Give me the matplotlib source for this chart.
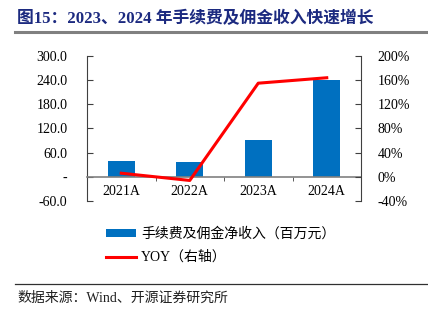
import matplotlib
matplotlib.use("Agg")
import matplotlib.pyplot as plt
from matplotlib.lines import Line2D
from matplotlib.patches import Patch

categories = ["2021A", "2022A", "2023A", "2024A"]
fee_income = [40.0, 36.0, 92.0, 241.0]
yoy_pct = [6.0, -6.0, 155.0, 164.0]
left_ticks = [-60, 0, 60, 120, 180, 240, 300]
left_labels = ["-60.0", "-", "60.0", "120.0", "180.0", "240.0", "300.0"]
right_ticks = [-40, 0, 40, 80, 120, 160, 200]
right_labels = ["-40%", "0%", "40%", "80%", "120%", "160%", "200%"]

SERIF = ["Liberation Serif", "Noto Sans CJK SC", "DejaVu Sans"]
MIX = ["Liberation Serif", "Noto Sans CJK SC"]

fig = plt.figure(figsize=(4.28, 3.23), dpi=100)
ax = fig.add_axes([87/428, 1-201/323, 274/428, 145/323])
ax2 = ax.twinx()

x = list(range(len(categories)))
bar_color = "#0070C0"
red = "#FF0000"
ax.bar(x, fee_income, width=0.4, color=bar_color, zorder=2)
ax2.plot(x, yoy_pct, color=red, lw=2.2, zorder=3)

ax.set_xlim(-0.5, 3.5)
ax.set_ylim(-60, 300)
ax2.set_ylim(-40, 200)
ax.set_yticks(left_ticks)
ax.set_yticklabels(left_labels, fontfamily=SERIF, fontsize=10)
ax2.set_yticks(right_ticks)
ax2.set_yticklabels(right_labels, fontfamily=SERIF, fontsize=10)

for a in (ax, ax2):
    a.spines["top"].set_visible(False)
    a.set_facecolor("none")
ax.spines["right"].set_visible(False)
ax2.spines["left"].set_visible(False)
ax2.spines["bottom"].set_visible(False)
ax.spines["left"].set_color("#404040")
ax2.spines["right"].set_color("#404040")
ax.spines["bottom"].set_position(("data", 0))
ax.spines["bottom"].set_color("#808080")
ax.spines["bottom"].set_linewidth(1.2)

ax.tick_params(axis="y", direction="in", length=4, color="#404040", pad=14)
ax2.tick_params(axis="y", direction="in", length=4, color="#404040", pad=12)
ax.set_xticks(x)
ax.set_xticklabels(categories, fontfamily=SERIF, fontsize=10)
ax.tick_params(axis="x", length=0, pad=6)
ax.set_xticks([0.5, 1.5, 2.5], minor=True)
ax.tick_params(axis="x", which="minor", direction="out", length=3, color="#404040")

# Title
fig.text(17/428, 1-19/323, "图15：2023、2024 年手续费及佣金收入快速增长",
         fontfamily=MIX, fontsize=12.1, fontweight="bold", color="#1C2A80",
         va="center", ha="left")
fig.add_artist(Line2D([15/428, 1.0], [1-32/323, 1-32/323], color="#808080", lw=2.2))

# Legend
handles = [Patch(facecolor=bar_color, edgecolor="none"),
           Line2D([0], [0], color=red, lw=2.2)]
labels = ["手续费及佣金净收入（百万元）", "YOY（右轴）"]
fig.legend(handles, labels, loc="upper left", bbox_to_anchor=(93/428, 1-215/323),
           frameon=False, prop={"family": MIX, "size": 10},
           handlelength=2.2, handleheight=0.55, labelspacing=0.7, handletextpad=0.35)

# Source
fig.add_artist(Line2D([15/428, 1.0], [1-284/323, 1-284/323], color="#303030", lw=0.9))
fig.text(17/428, 1-298/323, "数据来源：Wind、开源证券研究所", fontfamily=MIX,
         fontsize=10, color="#202020", va="center", ha="left")

fig.savefig("out.png", dpi=100)
